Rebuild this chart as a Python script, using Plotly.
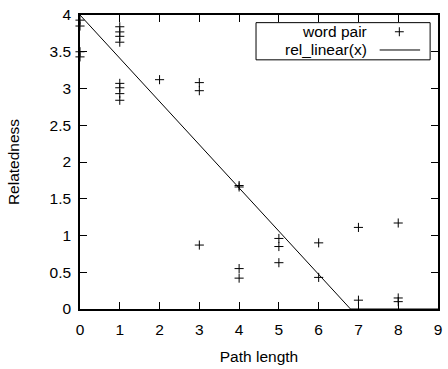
import plotly.graph_objects as go

# Word pair data (path length vs relatedness)
pair_x = [0, 0, 0, 0,
          1, 1, 1, 1, 1, 1, 1, 1,
          2,
          3, 3, 3,
          4, 4, 4, 4,
          5, 5, 5,
          6, 6,
          7, 7,
          8, 8, 8]
pair_y = [3.93, 3.85, 3.50, 3.43,
          3.84, 3.77, 3.71, 3.63, 3.07, 3.01, 2.93, 2.84,
          3.12,
          3.08, 2.97, 0.87,
          1.68, 1.66, 0.55, 0.42,
          0.96, 0.85, 0.63,
          0.90, 0.43,
          1.11, 0.12,
          1.17, 0.15, 0.10]

# rel_linear(x) reference line
line_x = [0, 6.8, 9]
line_y = [4, 0, 0]

x_ticks = [0, 1, 2, 3, 4, 5, 6, 7, 8, 9]
y_ticks = [0, 0.5, 1, 1.5, 2, 2.5, 3, 3.5, 4]

FONT = "Liberation Sans, Arial, Helvetica, sans-serif"
FS = 15.5

fig = go.Figure()
fig.add_trace(go.Scatter(
    x=pair_x, y=pair_y, mode="markers", name="word pair",
    marker=dict(symbol="cross-thin-open", size=6.5, color="black",
                line=dict(color="black", width=1)),
    cliponaxis=False, showlegend=False))
fig.add_trace(go.Scatter(
    x=line_x, y=line_y, mode="lines", name="rel_linear(x)",
    line=dict(color="black", width=1), showlegend=False))

# gnuplot-style key (text left of sample), in paper coordinates
px0, px1, py0, py1 = 0.4917, 0.978, 0.8475, 0.974
shapes = [
    dict(type="rect", xref="paper", yref="paper", x0=px0, x1=px1, y0=py0, y1=py1,
         line=dict(color="black", width=1), fillcolor="white", layer="above"),
    # line sample
    dict(type="line", xref="paper", yref="paper", x0=0.837, x1=0.950, y0=0.881, y1=0.881,
         line=dict(color="black", width=1), layer="above"),
    # plus sample
    dict(type="line", xref="paper", yref="paper", x0=0.892 - 0.0124, x1=0.892 + 0.0124,
         y0=0.943, y1=0.943, line=dict(color="black", width=1), layer="above"),
    dict(type="line", xref="paper", yref="paper", x0=0.892, x1=0.892,
         y0=0.943 - 0.0153, y1=0.943 + 0.0153, line=dict(color="black", width=1), layer="above"),
]
annotations = [
    dict(xref="paper", yref="paper", x=0.8066, y=0.943, text="word pair", showarrow=False,
         xanchor="right", yanchor="middle", font=dict(family=FONT, size=FS, color="black")),
    dict(xref="paper", yref="paper", x=0.8066, y=0.881, text="rel_linear(x)", showarrow=False,
         xanchor="right", yanchor="middle", font=dict(family=FONT, size=FS, color="black")),
]

axis_common = dict(
    showgrid=False, zeroline=False, showline=True, linecolor="black", linewidth=1.5,
    mirror="allticks", ticks="inside", ticklen=7, tickwidth=1, tickcolor="black",
    tickfont=dict(family=FONT, size=FS, color="black"),
)

fig.update_layout(
    width=448, height=369,
    margin=dict(l=80, r=6, t=15, b=59),
    paper_bgcolor="white", plot_bgcolor="white",
    font=dict(family=FONT, size=FS, color="black"),
    shapes=shapes, annotations=annotations,
    xaxis=dict(range=[0, 9], tickvals=x_ticks, ticktext=[str(v) for v in x_ticks],
               title=dict(text="Path length", font=dict(family=FONT, size=FS), standoff=14),
               ticklabelstandoff=6, **axis_common),
    yaxis=dict(range=[0, 4], tickvals=y_ticks, ticktext=[("%g" % v) for v in y_ticks],
               title=dict(text="Relatedness", font=dict(family=FONT, size=FS), standoff=26),
               ticklabelstandoff=4, **axis_common),
)

fig.write_html("out.html", config={"displayModeBar": False},
               post_script="document.body.style.margin='0';document.body.style.padding='0';")
